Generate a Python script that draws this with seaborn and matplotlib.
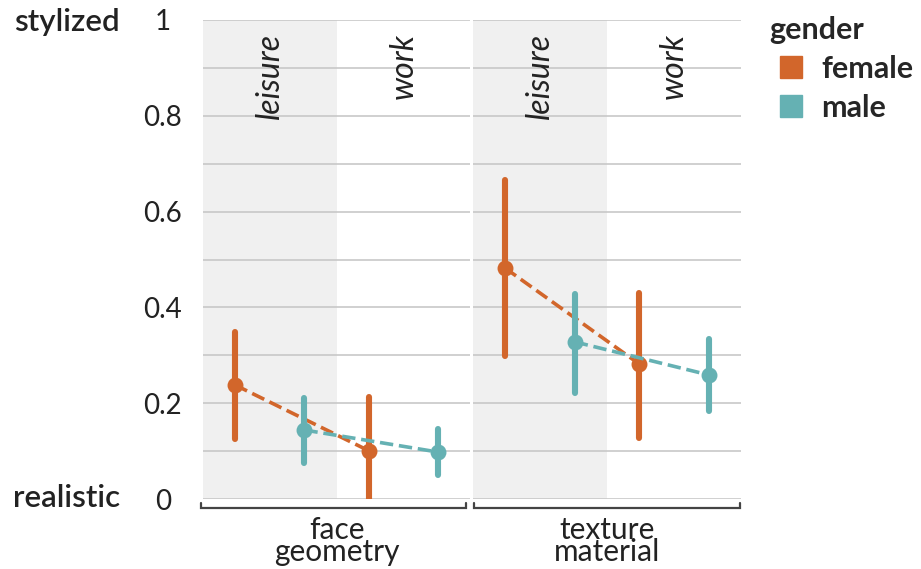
import numpy as np
import pandas as pd
import seaborn as sns
import matplotlib.pyplot as plt
from matplotlib.lines import Line2D

# ---- data ----
panels = ["face\ngeometry", "texture\nmaterial"]
contexts = ["leisure", "work"]
genders = ["female", "male"]
# order inside each list: leisure-female, leisure-male, work-female, work-male
face_mean = [0.238, 0.144, 0.101, 0.098]
face_lo = [0.125, 0.076, 0.000, 0.050]
face_hi = [0.349, 0.210, 0.212, 0.146]
tex_mean = [0.482, 0.328, 0.282, 0.259]
tex_lo = [0.299, 0.221, 0.127, 0.184]
tex_hi = [0.666, 0.429, 0.431, 0.335]
yticks = [0, 0.2, 0.4, 0.6, 0.8, 1]
ytick_labels = ["0", "0.2", "0.4", "0.6", "0.8", "1"]

colors = {"female": "#D2662B", "male": "#65B1B3"}

rows = []
combos = [(c, g) for c in contexts for g in genders]
for p, means, los, his in [(panels[0], face_mean, face_lo, face_hi),
                           (panels[1], tex_mean, tex_lo, tex_hi)]:
    for (c, g), m, lo, hi in zip(combos, means, los, his):
        for v in (lo, m, hi):
            rows.append({"panel": p, "context": c, "gender": g, "value": v})
df = pd.DataFrame(rows)

sns.set_theme(style="white")
plt.rcParams["font.family"] = ["Lato", "DejaVu Sans"]

fig = plt.figure(figsize=(9.21, 5.69), dpi=100)
W, H = 921, 569
ax_boxes = [(203, 470), (473, 741)]
top_px, bot_px = 20, 499
axes = []
for i, (x0, x1) in enumerate(ax_boxes):
    ax = fig.add_axes([x0 / W, 1 - bot_px / H, (x1 - x0) / W, (bot_px - top_px) / H],
                      sharey=axes[0] if axes else None)
    axes.append(ax)

for ax, p in zip(axes, panels):
    sub = df[df["panel"] == p]
    ax.axvspan(-0.5, 0.5, color="#F0F0F0", zorder=0, lw=0)
    sns.pointplot(data=sub, x="context", y="value", hue="gender",
                  order=contexts, hue_order=genders, palette=colors,
                  estimator="median", errorbar=lambda v: (v.min(), v.max()),
                  dodge=0.52, markers="o", linestyles="--",
                  markersize=9.5, linewidth=2.6,
                  err_kws={"linewidth": 4.4, "linestyle": "-"},
                  legend=False, ax=ax)
    ax.set_xlim(-0.5, 1.5)
    ax.set_ylim(0, 1)
    ax.set_xticks([])
    ax.set_xlabel("")
    ax.set_ylabel("")
    ax.set_yticks(np.round(np.arange(0, 1.01, 0.1), 1), minor=True)
    ax.set_yticks(yticks)
    ax.grid(True, axis="y", which="both", color="#C8C8C8", linewidth=1.2)
    ax.set_axisbelow(True)
    for s in ax.spines.values():
        s.set_visible(False)
    for j, c in enumerate(contexts):
        ax.text(j, 0.973, c, rotation=90, ha="center", va="top",
                style="italic", fontsize=23, color="#222222")
    ax.text(0.5, -0.035, p, transform=ax.transAxes, ha="center", va="top",
            fontsize=21.5, linespacing=0.76, color="#222222")
    ax.tick_params(axis="y", which="both", length=0)

axes[0].set_yticklabels(ytick_labels, fontsize=20, color="#222222")
for lab in axes[0].get_yticklabels():
    lab.set_ha("center")
axes[0].tick_params(axis="y", pad=29)
axes[1].tick_params(axis="y", labelleft=False)

# brackets under panels
for ax, (xa, xb) in zip(axes, [(-0.009, 0.985), (0.004, 0.996)]):
    yb, yt = -0.019, -0.008
    ax.plot([xa, xa, xb, xb], [yt, yb, yb, yt], transform=ax.transAxes,
            color="#444444", lw=1.6, clip_on=False, solid_joinstyle="miter")

fig.text(120 / W, 1 - 22 / H, "stylized", ha="right", va="center",
         fontsize=22.5, fontweight="semibold", color="#222222")
fig.text(120 / W, 1 - 498 / H, "realistic", ha="right", va="center",
         fontsize=22.5, fontweight="semibold", color="#222222")

handles = [Line2D([], [], marker="s", linestyle="", markersize=15.5,
                  markerfacecolor=colors[g], markeredgecolor=colors[g]) for g in genders]
leg = fig.legend(handles, genders, loc="upper left",
                 bbox_to_anchor=(745 / W, 1 + 8 / H), frameon=False,
                 title="gender", alignment="left", handlelength=1.44,
                 handletextpad=0.26, labelspacing=0.35, borderpad=0.3,
                 prop={"size": 22, "weight": "bold"},
                 title_fontproperties={"size": 22, "weight": "bold"})

fig.savefig("out.png", dpi=100)
